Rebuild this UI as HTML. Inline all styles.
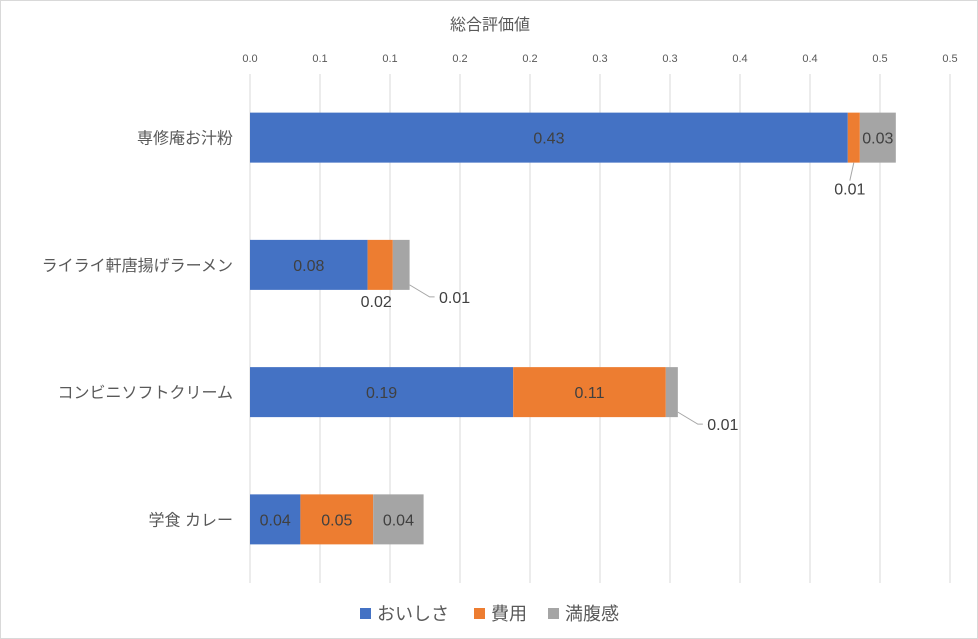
<!DOCTYPE html>
<html><head><meta charset="utf-8"><style>
body{margin:0;background:#fff;}
svg{display:block;font-family:"Liberation Sans","Noto Sans CJK JP",sans-serif;}
</style></head><body>
<svg id="chart" width="978" height="639">
<rect x="0.5" y="0.5" width="977" height="638" fill="#fff" stroke="#d9d9d9"/>
<text x="490" y="30" text-anchor="middle" font-size="16" fill="#595959">総合評価値</text>
<g id="grid"></g><g id="bars"></g><g id="labels"></g>
<g>
<rect x="360" y="608" width="11" height="11" fill="#4472c4"/>
<text x="377" y="620" font-size="18" fill="#595959">おいしさ</text>
<rect x="474" y="608" width="11" height="11" fill="#ed7d31"/>
<text x="491" y="620" font-size="18" fill="#595959">費用</text>
<rect x="548" y="608" width="11" height="11" fill="#a5a5a5"/>
<text x="565" y="620" font-size="18" fill="#595959">満腹感</text>
</g>
</svg>
<script>
const categories=["専修庵お汁粉","ライライ軒唐揚げラーメン","コンビニソフトクリーム","学食 カレー"];
const oishisa=[0.427,0.084,0.188,0.036];
const hiyou=[0.0086,0.018,0.109,0.052];
const manpuku=[0.0257,0.012,0.0086,0.036];
const ticks=[0,0.05,0.1,0.15,0.2,0.25,0.3,0.35,0.4,0.45,0.5];
const tickLabels=["0.0","0.1","0.1","0.2","0.2","0.3","0.3","0.4","0.4","0.5","0.5"];
const NS="http://www.w3.org/2000/svg";
const x0=250,pxPerUnit=1400,yTop=74,yBottom=583;
const xs=v=>x0+v*pxPerUnit;
const band=(yBottom-yTop)/categories.length;
const yc=i=>yTop+band*(i+0.5);
function mk(tag,attrs,parent){const e=document.createElementNS(NS,tag);for(const k in attrs)e.setAttribute(k,attrs[k]);parent.appendChild(e);return e;}
const grid=document.getElementById('grid'),bars=document.getElementById('bars'),labels=document.getElementById('labels');
ticks.forEach((t,i)=>{
  const l=mk('line',{x1:xs(t),x2:xs(t),y1:yTop,y2:yBottom,stroke:'#d9d9d9'},grid);
  
  
  const tx=mk('text',{x:xs(t),y:62,'text-anchor':'middle','font-size':11,fill:'#595959'},grid);
  tx.textContent=tickLabels[i];
  
  
});
const series=[{d:oishisa,c:'#4472c4',n:'oishisa'},{d:hiyou,c:'#ed7d31',n:'hiyou'},{d:manpuku,c:'#a5a5a5',n:'manpuku'}];
categories.forEach((cat,i)=>{
  const cl=mk('text',{x:233,y:yc(i)+6,'text-anchor':'end','font-size':16,fill:'#595959'},labels);
  cl.textContent=cat;
  
  
  let acc=0;
  series.forEach((s,si)=>{
    const v=s.d[i],xa=xs(acc),xb=xs(acc+v);acc+=v;
    const r=mk('rect',{x:xa,y:yc(i)-25,width:xb-xa,height:50,fill:s.c},bars);
    
    
    const txt=v.toFixed(2);
    let lx,ly,inside=(xb-xa)>30;
    if(inside){lx=(xa+xb)/2;ly=yc(i)+6;}
    else if(si===1){lx=(xa+xb)/2-4;ly=yc(i)+42+(i===0?15:0);
      if(i===0){const ln=mk('line',{x1:(xa+xb)/2,y1:yc(i)+25,x2:lx,y2:ly-14,stroke:'#a6a6a6'},labels);}}
    else{lx=xb+45;ly=yc(i)+38;
      const ln=mk('polyline',{points:`${xb},${yc(i)+20} ${xb+20},${yc(i)+32} ${xb+25},${yc(i)+32}`,fill:'none',stroke:'#a6a6a6'},labels);
      }
    const t=mk('text',{x:lx,y:ly,'text-anchor':'middle','font-size':16,fill:'#404040'},labels);
    t.textContent=txt;
    
    
  });
});
</script>
</body></html>
